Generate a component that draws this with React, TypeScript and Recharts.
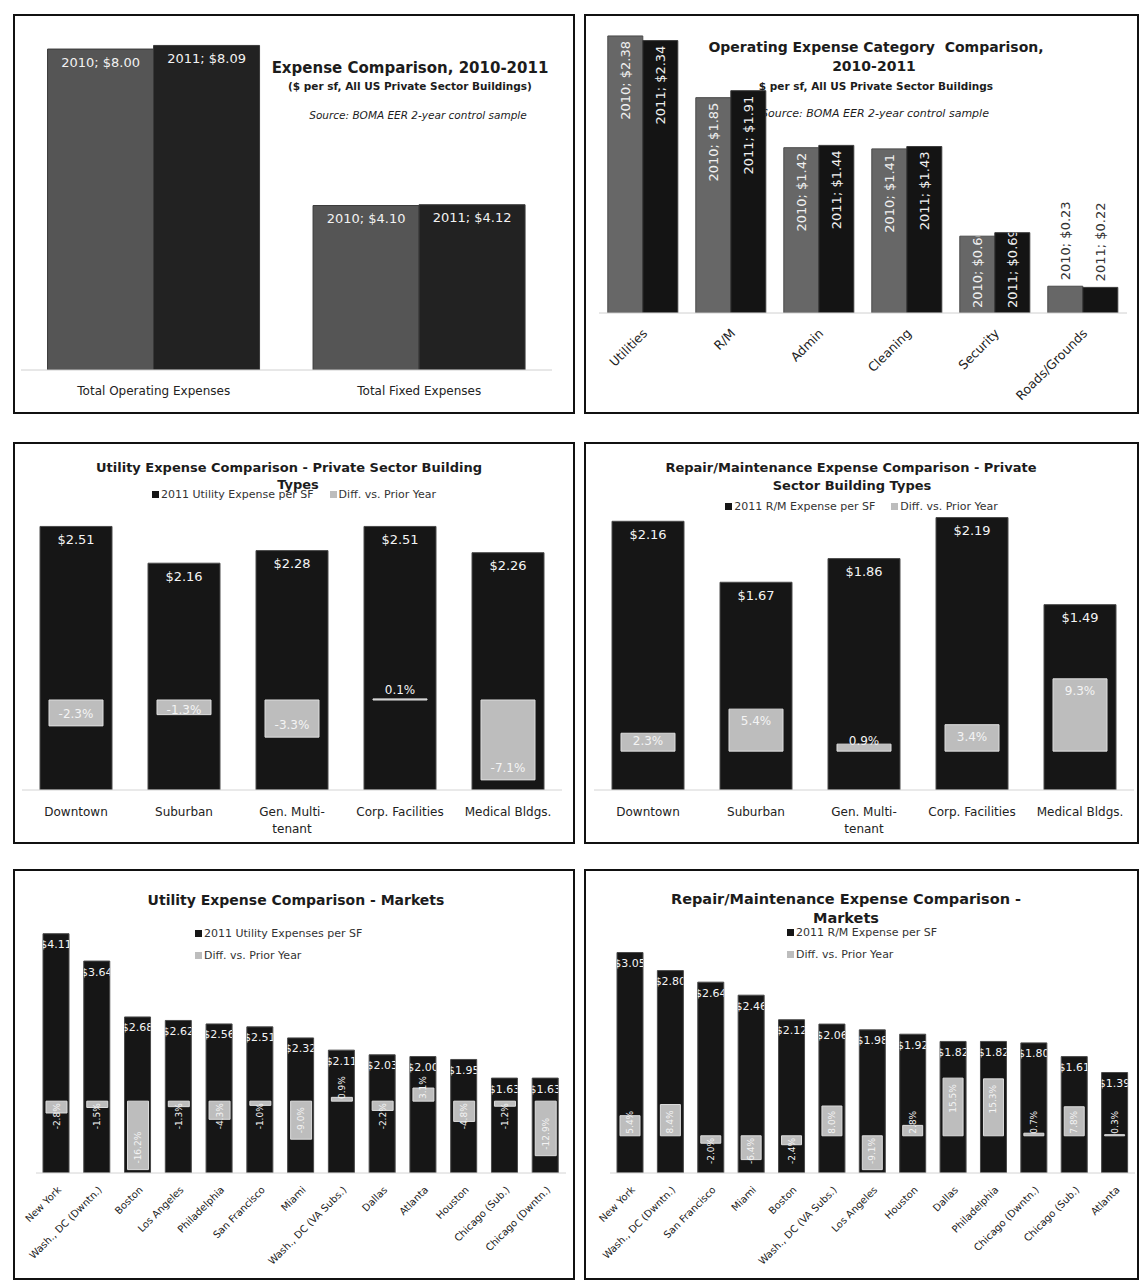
import React from "react";
import { BarChart, Bar, XAxis, YAxis, LabelList, Legend } from "recharts";

const FONT = '"DejaVu Sans", Verdana, sans-serif';

// ---- data ----
const totalCategories = ["Total Operating Expenses", "Total Fixed Expenses"];
const total2010 = [8.0, 4.1];
const total2011 = [8.09, 4.12];

const opexCategories = ["Utilities", "R/M", "Admin", "Cleaning", "Security", "Roads/Grounds"];
const opex2010 = [2.38, 1.85, 1.42, 1.41, 0.66, 0.23];
const opex2011 = [2.34, 1.91, 1.44, 1.43, 0.69, 0.22];

const buildingTypes = ["Downtown", "Suburban", "Gen. Multi-tenant", "Corp. Facilities", "Medical Bldgs."];
const utilityByType = [2.51, 2.16, 2.28, 2.51, 2.26];
const utilityByTypeDiff = [-2.3, -1.3, -3.3, 0.1, -7.1];
const rmByType = [2.16, 1.67, 1.86, 2.19, 1.49];
const rmByTypeDiff = [2.3, 5.4, 0.9, 3.4, 9.3];

const utilityMarkets = [
  "New York", "Wash., DC (Dwntn.)", "Boston", "Los Angeles", "Philadelphia", "San Francisco", "Miami",
  "Wash., DC (VA Subs.)", "Dallas", "Atlanta", "Houston", "Chicago (Sub.)", "Chicago (Dwntn.)",
];
const utilityByMarket = [4.11, 3.64, 2.68, 2.62, 2.56, 2.51, 2.32, 2.11, 2.03, 2.0, 1.95, 1.63, 1.63];
const utilityByMarketDiff = [-2.8, -1.5, -16.2, -1.3, -4.3, -1.0, -9.0, 0.9, -2.2, 3.1, -4.8, -1.2, -12.9];

const rmMarkets = [
  "New York", "Wash., DC (Dwntn.)", "San Francisco", "Miami", "Boston", "Wash., DC (VA Subs.)", "Los Angeles",
  "Houston", "Dallas", "Philadelphia", "Chicago (Dwntn.)", "Chicago (Sub.)", "Atlanta",
];
const rmByMarket = [3.05, 2.8, 2.64, 2.46, 2.12, 2.06, 1.98, 1.92, 1.82, 1.82, 1.8, 1.61, 1.39];
const rmByMarketDiff = [5.4, 8.4, -2.0, -6.4, -2.4, 8.0, -9.1, 2.8, 15.5, 15.3, 0.7, 7.8, 0.3];

// ---- helpers ----
const charW = (c: string) =>
  /[0-9$]/.test(c) ? 0.636 : c === "%" ? 0.95 : /[.;, ]/.test(c) ? 0.33 : c === "-" ? 0.36 : 0.62;
const textLen = (s: string, fs: number) => s.split("").reduce((a, c) => a + charW(c), 0) * fs;

function barBox(p: any) {
  const vb = p.viewBox || {};
  const x = Number(vb.x ?? p.x);
  const y = Number(vb.y ?? p.y);
  const w = Number(vb.width ?? p.width);
  const h = Number(vb.height ?? p.height);
  return { left: x, width: w, top: Math.min(y, y + h), bottom: Math.max(y, y + h), cx: x + w / 2 };
}

const money = (v: number) => `$${v.toFixed(2)}`;
const pct = (v: number) => `${v.toFixed(1)}%`;

// horizontal "2010; $8.00" label inside top of bar
const yearTopLabel = (year: string) => (p: any) => {
  const r = barBox(p);
  return (
    <text x={r.cx} y={r.top + 13} textAnchor="middle" dominantBaseline="central"
      fontFamily={FONT} fontSize={13} fill="#f2f2f2">
      {`${year}; ${money(Number(p.value))}`}
    </text>
  );
};

// vertical "2010; $2.38" label, inside end / clipped / outside depending on room
const yearVertLabel = (year: string) => (p: any) => {
  const r = barBox(p);
  const text = `${year}; ${money(Number(p.value))}`;
  const fs = 13;
  const L = textLen(text, fs);
  const h = r.bottom - r.top;
  const common = { fontFamily: FONT, fontSize: fs, dominantBaseline: "central" as const };
  if (h >= L + 10) {
    return (
      <text transform={`translate(${r.cx},${r.top + 5}) rotate(-90)`} textAnchor="end" fill="#f0f0f0" {...common}>
        {text}
      </text>
    );
  }
  if (h >= 40) {
    const cid = `op-${year}-${p.index}`;
    return (
      <g>
        <defs>
          <clipPath id={cid}>
            <rect x={r.left} y={r.top} width={r.width} height={h} />
          </clipPath>
        </defs>
        <g clipPath={`url(#${cid})`}>
          <text transform={`translate(${r.cx},${r.bottom - 5}) rotate(-90)`}
            textAnchor="start" fill="#f0f0f0" {...common}>
            {text}
          </text>
        </g>
      </g>
    );
  }
  return (
    <text transform={`translate(${r.cx},${r.top - 6}) rotate(-90)`} textAnchor="start" fill="#333" {...common}>
      {text}
    </text>
  );
};

// "$2.51" inside top of black bar, clipped to the bar
const valueTopLabel = (id: string, fs: number, off: number) => (p: any) => {
  const r = barBox(p);
  const cid = `${id}-${p.index}`;
  return (
    <g>
      <defs>
        <clipPath id={cid}>
          <rect x={r.left} y={r.top} width={r.width} height={r.bottom - r.top} />
        </clipPath>
      </defs>
      <g clipPath={`url(#${cid})`}>
        <text x={r.cx} y={r.top + off} textAnchor="middle" dominantBaseline="central"
          fontFamily={FONT} fontSize={fs} fill="#f4f4f4">
          {money(Number(p.value))}
        </text>
      </g>
    </g>
  );
};

// horizontal percent label on the grey bar
const pctLabelH = (p: any) => {
  const r = barBox(p);
  const v = Number(p.value);
  const cy = v >= 0 ? Math.min(r.top + 12, r.bottom - 10) : Math.max(r.bottom - 12, r.top + 10);
  return (
    <text x={r.cx} y={cy} textAnchor="middle" dominantBaseline="central" fontFamily={FONT} fontSize={12} fill="#f4f4f4">
      {pct(v)}
    </text>
  );
};

// rotated percent label on the grey bar
const pctLabelV = (p: any) => {
  const r = barBox(p);
  const v = Number(p.value);
  const text = pct(v);
  const fs = 9;
  const L = textLen(text, fs);
  const common = { fontFamily: FONT, fontSize: fs, dominantBaseline: "central" as const, fill: "#f4f4f4" };
  if (v >= 0) {
    const t = Math.min(r.top + 6, r.bottom - 2 - L);
    return (
      <text transform={`translate(${r.cx},${t}) rotate(-90)`} textAnchor="end" {...common}>
        {text}
      </text>
    );
  }
  const b = Math.max(r.bottom - 6, r.top + 2 + L);
  return (
    <text transform={`translate(${r.cx},${b}) rotate(-90)`} textAnchor="start" {...common}>
      {text}
    </text>
  );
};

const WrapTick = (tp: any) => {
  const s: string = String(tp.payload.value);
  const cut = s.indexOf("-") + 1;
  const lines = s.length > 16 && cut > 0 ? [s.slice(0, cut), s.slice(cut)] : [s];
  return (
    <text x={tp.x} y={tp.y + 22} textAnchor="middle" fontFamily={FONT} fontSize={12} fill="#222">
      {lines.map((l, i) => (
        <tspan key={i} x={tp.x} dy={i === 0 ? "0.35em" : 17}>
          {l}
        </tspan>
      ))}
    </text>
  );
};

const slantTick = (dx: number, dy: number, fs: number) => (tp: any) => (
  <text transform={`translate(${tp.x + dx},${tp.y + dy}) rotate(-45)`} textAnchor="end" dy="0.35em"
    fontFamily={FONT} fontSize={fs} fill="#222">
    {tp.payload.value}
  </text>
);

const legendContent = (vertical: boolean) => (props: any) => {
  const items = props.payload || [];
  return (
    <div style={{
      display: "flex", flexDirection: vertical ? "column" : "row", justifyContent: "center",
      alignItems: vertical ? "flex-start" : "center", gap: vertical ? 8 : 16,
      fontFamily: FONT, fontSize: 11, color: "#333",
    }}>
      {items.map((it: any, i: number) => (
        <div key={i} style={{ display: "flex", alignItems: "center", height: 14, whiteSpace: "nowrap" }}>
          <span style={{ display: "inline-block", width: 7, height: 7, marginRight: 2, background: it.payload?.fill ?? it.color }} />
          <span>{it.value}</span>
        </div>
      ))}
    </div>
  );
};

function Panel(props: { left: number; top: number; width: number; height: number; children: React.ReactNode }) {
  return (
    <div style={{
      position: "absolute", left: props.left, top: props.top, width: props.width, height: props.height,
      border: "2px solid #111", boxSizing: "border-box", background: "#fff", overflow: "hidden",
    }}>
      {props.children}
    </div>
  );
}

function TitleLine(props: { text: string; cx: number; cy: number; size: number; bold?: boolean; italic?: boolean }) {
  const w = 540;
  return (
    <div style={{
      position: "absolute", left: props.cx - w / 2, top: props.cy - props.size * 0.7, width: w,
      textAlign: "center", fontFamily: FONT, fontSize: props.size, lineHeight: `${props.size * 1.4}px`,
      fontWeight: props.bold === false ? 400 : 700, fontStyle: props.italic ? "italic" : "normal",
      color: "#1c1c1c", whiteSpace: "pre",
    }}>
      {props.text}
    </div>
  );
}

function OverlayChart(props: {
  id: string; names: string[]; values: number[]; diffs: number[];
  width: number; height: number; margin: any; valueMax: number; pctDomain: [number, number];
  barSize: number; diffSize: number; axisHeight: number; valueName: string;
  slanted: boolean; legendVertical: boolean; legendStyle: any; valueFont: number; valueOff: number;
}) {
  const data = props.names.map((name, i) => ({ name, value: props.values[i], diff: props.diffs[i] }));
  return (
    <BarChart width={props.width} height={props.height} data={data} margin={props.margin}>
      <XAxis xAxisId="m" dataKey="name" interval={0} tickSize={0} tickMargin={0} tickLine={false}
        axisLine={{ stroke: "#d4d4d4" }} height={props.axisHeight}
        tick={props.slanted ? slantTick(3, 15, 10) : WrapTick} />
      <XAxis xAxisId="d" dataKey="name" hide height={0} />
      <YAxis yAxisId="v" hide width={0} domain={[0, props.valueMax]} allowDataOverflow />
      <YAxis yAxisId="p" hide width={0} orientation="right" domain={props.pctDomain} allowDataOverflow />
      <Legend layout="vertical" align="center" verticalAlign="middle" wrapperStyle={props.legendStyle}
        content={legendContent(props.legendVertical)} />
      <Bar xAxisId="m" yAxisId="v" dataKey="value" name={props.valueName} fill="#161616" stroke="#4a4a4a"
        barSize={props.barSize} isAnimationActive={false}>
        <LabelList dataKey="value" content={valueTopLabel(props.id, props.valueFont, props.valueOff)} />
      </Bar>
      <Bar xAxisId="d" yAxisId="p" dataKey="diff" name="Diff. vs. Prior Year" fill="#bdbdbd" stroke="#dedede"
        barSize={props.diffSize} isAnimationActive={false}>
        <LabelList dataKey="diff" content={props.slanted ? pctLabelV : pctLabelH} />
      </Bar>
    </BarChart>
  );
}

export default function App() {
  const totalData = totalCategories.map((name, i) => ({ name, y2010: total2010[i], y2011: total2011[i] }));
  const opexData = opexCategories.map((name, i) => ({ name, y2010: opex2010[i], y2011: opex2011[i] }));

  return (
    <div style={{ position: "absolute", left: 0, top: 0, width: 1141, height: 1283, background: "#fff" }}>
      {/* top left */}
      <Panel left={13} top={14} width={562} height={400}>
        <TitleLine text="Expense Comparison, 2010-2011" cx={395} cy={52} size={15} />
        <TitleLine text="($ per sf, All US Private Sector Buildings)" cx={395} cy={70} size={10.5} />
        <TitleLine text="Source: BOMA EER 2-year control sample" cx={403} cy={99} size={10.5} bold={false} italic />
        <div style={{ position: "absolute", left: 0, top: 0 }}>
          <BarChart width={558} height={396} data={totalData} margin={{ top: 13, right: 21, left: 6, bottom: 12 }}
            barCategoryGap="10%" barGap={0}>
            <XAxis dataKey="name" interval={0} tickSize={0} tickMargin={0} tickLine={false}
              axisLine={{ stroke: "#d0d0d0" }} height={30}
              tick={(tp: any) => (
                <text x={tp.x} y={tp.y + 21} dy="0.35em" textAnchor="middle" fontFamily={FONT} fontSize={12} fill="#222">
                  {tp.payload.value}
                </text>
              )} />
            <YAxis hide width={0} domain={[0, 8.5]} allowDataOverflow />
            <Bar dataKey="y2010" fill="#555555" stroke="#3a3a3a" isAnimationActive={false}>
              <LabelList dataKey="y2010" content={yearTopLabel("2010")} />
            </Bar>
            <Bar dataKey="y2011" fill="#222222" stroke="#3a3a3a" isAnimationActive={false}>
              <LabelList dataKey="y2011" content={yearTopLabel("2011")} />
            </Bar>
          </BarChart>
        </div>
      </Panel>

      {/* top right */}
      <Panel left={584} top={14} width={555} height={400}>
        <TitleLine text="Operating Expense Category  Comparison," cx={290} cy={32} size={14} />
        <TitleLine text="2010-2011" cx={288} cy={51} size={14} />
        <TitleLine text="$ per sf, All US Private Sector Buildings" cx={290} cy={70} size={10.5} />
        <TitleLine text="Source: BOMA EER 2-year control sample" cx={289} cy={98} size={11} bold={false} italic />
        <div style={{ position: "absolute", left: 0, top: 0 }}>
          <BarChart width={551} height={396} data={opexData} margin={{ top: 6, right: 10, left: 13, bottom: 0 }}
            barCategoryGap="10%" barGap={0}>
            <XAxis dataKey="name" interval={0} tickSize={0} tickMargin={0} tickLine={false}
              axisLine={{ stroke: "#d0d0d0" }} height={99} tick={slantTick(2, 18, 12.5)} />
            <YAxis hide width={0} domain={[0, 2.5]} allowDataOverflow />
            <Bar dataKey="y2010" fill="#676767" stroke="#4a4a4a" isAnimationActive={false}>
              <LabelList dataKey="y2010" content={yearVertLabel("2010")} />
            </Bar>
            <Bar dataKey="y2011" fill="#141414" stroke="#3a3a3a" isAnimationActive={false}>
              <LabelList dataKey="y2011" content={yearVertLabel("2011")} />
            </Bar>
          </BarChart>
        </div>
      </Panel>

      {/* middle left */}
      <Panel left={13} top={442} width={562} height={402}>
        <TitleLine text="Utility Expense Comparison - Private Sector Building" cx={274} cy={24} size={13} />
        <TitleLine text="Types" cx={283} cy={41} size={13} />
        <div style={{ position: "absolute", left: 0, top: 0 }}>
          <OverlayChart id="ut" names={buildingTypes} values={utilityByType} diffs={utilityByTypeDiff}
            width={558} height={398} margin={{ top: 31, right: 11, left: 7, bottom: 0 }}
            valueMax={3} pctDomain={[-8, 20]} barSize={72} diffSize={54} axisHeight={52}
            valueName="2011 Utility Expense per SF" slanted={false} legendVertical={false}
            legendStyle={{ left: 0, top: 43, width: 558 }} valueFont={13} valueOff={13} />
        </div>
      </Panel>

      {/* middle right */}
      <Panel left={584} top={442} width={555} height={402}>
        <TitleLine text="Repair/Maintenance Expense Comparison - Private" cx={265} cy={24} size={13} />
        <TitleLine text="Sector Building Types" cx={266} cy={42} size={13} />
        <div style={{ position: "absolute", left: 0, top: 0 }}>
          <OverlayChart id="rt" names={buildingTypes} values={rmByType} diffs={rmByTypeDiff}
            width={551} height={398} margin={{ top: 35, right: 3, left: 8, bottom: 0 }}
            valueMax={2.5} pctDomain={[-5, 35]} barSize={72} diffSize={54} axisHeight={52}
            valueName="2011 R/M Expense per SF" slanted={false} legendVertical={false}
            legendStyle={{ left: 0, top: 55, width: 551 }} valueFont={13} valueOff={13} />
        </div>
      </Panel>

      {/* bottom left */}
      <Panel left={13} top={869} width={562} height={411}>
        <TitleLine text="Utility Expense Comparison - Markets" cx={281} cy={30} size={14} />
        <div style={{ position: "absolute", left: 0, top: 0 }}>
          <OverlayChart id="um" names={utilityMarkets} values={utilityByMarket} diffs={utilityByMarketDiff}
            width={558} height={407} margin={{ top: 40, right: 7, left: 21, bottom: 0 }}
            valueMax={4.5} pctDomain={[-17, 45]} barSize={26} diffSize={21} axisHeight={105}
            valueName="2011 Utility Expenses per SF" slanted legendVertical
            legendStyle={{ left: 180, top: 55, width: 250 }} valueFont={11} valueOff={11} />
        </div>
      </Panel>

      {/* bottom right */}
      <Panel left={584} top={869} width={555} height={411}>
        <TitleLine text="Repair/Maintenance Expense Comparison -" cx={260} cy={28} size={14.5} />
        <TitleLine text="Markets" cx={260} cy={47} size={14.5} />
        <div style={{ position: "absolute", left: 0, top: 0 }}>
          <OverlayChart id="rm" names={rmMarkets} values={rmByMarket} diffs={rmByMarketDiff}
            width={551} height={407} margin={{ top: 49, right: 2, left: 24, bottom: 0 }}
            valueMax={3.5} pctDomain={[-10, 58]} barSize={26} diffSize={20} axisHeight={105}
            valueName="2011 R/M Expense per SF" slanted legendVertical
            legendStyle={{ left: 201, top: 54, width: 250 }} valueFont={11} valueOff={11} />
        </div>
      </Panel>
    </div>
  );
}
